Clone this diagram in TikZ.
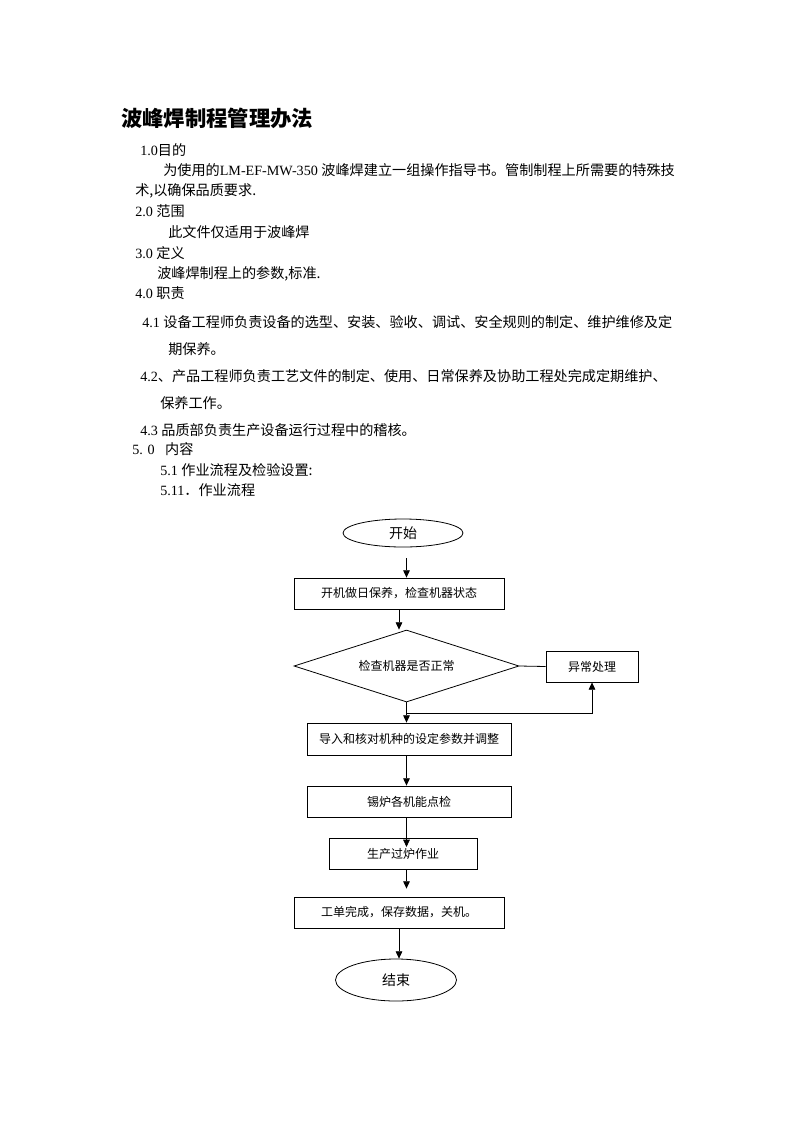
\documentclass[tikz,border=0pt]{standalone}
\usepackage{fontspec}
\setmainfont{Liberation Serif}
\newfontfamily\cjk{Noto Sans CJK SC}
\usetikzlibrary{shapes.geometric, arrows.meta}

\begin{document}
\begin{tikzpicture}[x = 0.75pt, y = -0.75pt,
	txt/.style = {anchor = base west, inner sep = 0pt, font = \fontsize{10.6}{13}\selectfont},
	box/.style = {draw, line width = 0.6pt, inner sep = 0pt, minimum height = 23.25pt, font = \cjk\fontsize{9}{11}\selectfont},
	decide/.style = {draw, diamond, aspect = 3.125, line width = 0.6pt, inner sep = 0pt, minimum width = 168.75pt, minimum height = 54pt, font = \cjk\fontsize{9}{11}\selectfont},
	term/.style = {draw, ellipse, line width = 0.6pt, inner sep = 0pt, font = \cjk\fontsize{10.5}{12}\selectfont},
	arr/.style = {line width = 0.6pt, -{Triangle[length = 5.5pt, width = 5pt]}}]
	
	\useasboundingbox (0, 0) rectangle (793, 1122);
	
	% heading
	\node[txt, font = \cjk\bfseries\fontsize{16}{19}\selectfont] (title) at (121, 126) {波峰焊制程管理办法};
	
	\node[txt] (s1) at (140, 155) {1.0{\cjk 目的}};
	\node[txt] (s1a) at (163, 175) {{\cjk 为使用的}LM-EF-MW-350 {\cjk 波峰焊建立一组操作指导书。管制制程上所需要的特殊技}};
	\node[txt] (s1b) at (135, 195) {\cjk 术,以确保品质要求.};
	
	\node[txt] (s2) at (135, 216) {2.0 {\cjk 范围}};
	\node[txt] (s2a) at (168, 237) {\cjk 此文件仅适用于波峰焊};
	
	\node[txt] (s3) at (135, 258) {3.0 {\cjk 定义}};
	\node[txt] (s3a) at (157, 278) {\cjk 波峰焊制程上的参数,标准.};
	
	\node[txt] (s4) at (135, 298) {4.0 {\cjk 职责}};
	\node[txt] (s41) at (142, 327) {4.1 {\cjk 设备工程师负责设备的选型、安装、验收、调试、安全规则的制定、维护维修及定}};
	\node[txt] (s41b) at (168, 354) {\cjk 期保养。};
	\node[txt] (s42) at (140, 381) {4.2{\cjk 、产品工程师负责工艺文件的制定、使用、日常保养及协助工程处完成定期维护、}};
	\node[txt] (s42b) at (160, 408) {\cjk 保养工作。};
	\node[txt] (s43) at (140, 435) {4.3 {\cjk 品质部负责生产设备运行过程中的稽核。}};
	
	\node[txt] (s5) at (132, 454) {5. 0\ \ \ {\cjk 内容}};
	\node[txt] (s51) at (160, 475) {5.1 {\cjk 作业流程及检验设置:}};
	\node[txt] (s511) at (160, 495) {5.11{\cjk ．作业流程}};
	
	% flow chart
	\node[term, minimum width = 90pt, minimum height = 21pt] (start) at (403, 533) {开始};
	\node[box, minimum width = 157.5pt] (boot) at (399, 593.5) {开机做日保养，检查机器状态};
	\node[decide] (check) at (406.5, 666) {检查机器是否正常};
	\node[box, minimum width = 69pt] (fault) at (592, 666.5) {异常处理};
	\node[box, minimum width = 153pt, minimum height = 24pt] (param) at (409, 739) {导入和核对机种的设定参数并调整};
	\node[box, minimum width = 153pt] (pot) at (409, 801.5) {锡炉各机能点检};
	\node[box, minimum width = 111pt] (run) at (403, 853.5) {生产过炉作业};
	\node[box, minimum width = 157.5pt] (done) at (399, 912.5) {工单完成，保存数据，关机。};
	\node[term, minimum width = 90.75pt, minimum height = 31.5pt] (stop) at (396, 980) {结束};
	
	\coordinate (back) at (406.5, 713);
	
	\draw[arr, shorten <= 8pt] (start.south -| check.north) -- (check.north |- boot.north);
	\draw[arr] (boot.south) -- (boot.south |- check.north);
	\draw[line width = 0.6pt] (check.east) -- (fault.west);
	\draw[arr] (check.south) -- (check.south |- param.north);
	\draw[arr] (back) -| (fault.south);
	\draw[arr] (param.south -| check.south) -- (check.south |- pot.north);
	\draw[arr, shorten >= -7pt] (pot.south -| check.south) -- (check.south |- run.north);
	\draw[arr, shorten >= 6pt] (run.south -| check.south) -- (check.south |- done.north);
	\draw[arr] (done.south) -- (done.south |- stop.north);
	
\end{tikzpicture}
\end{document}
